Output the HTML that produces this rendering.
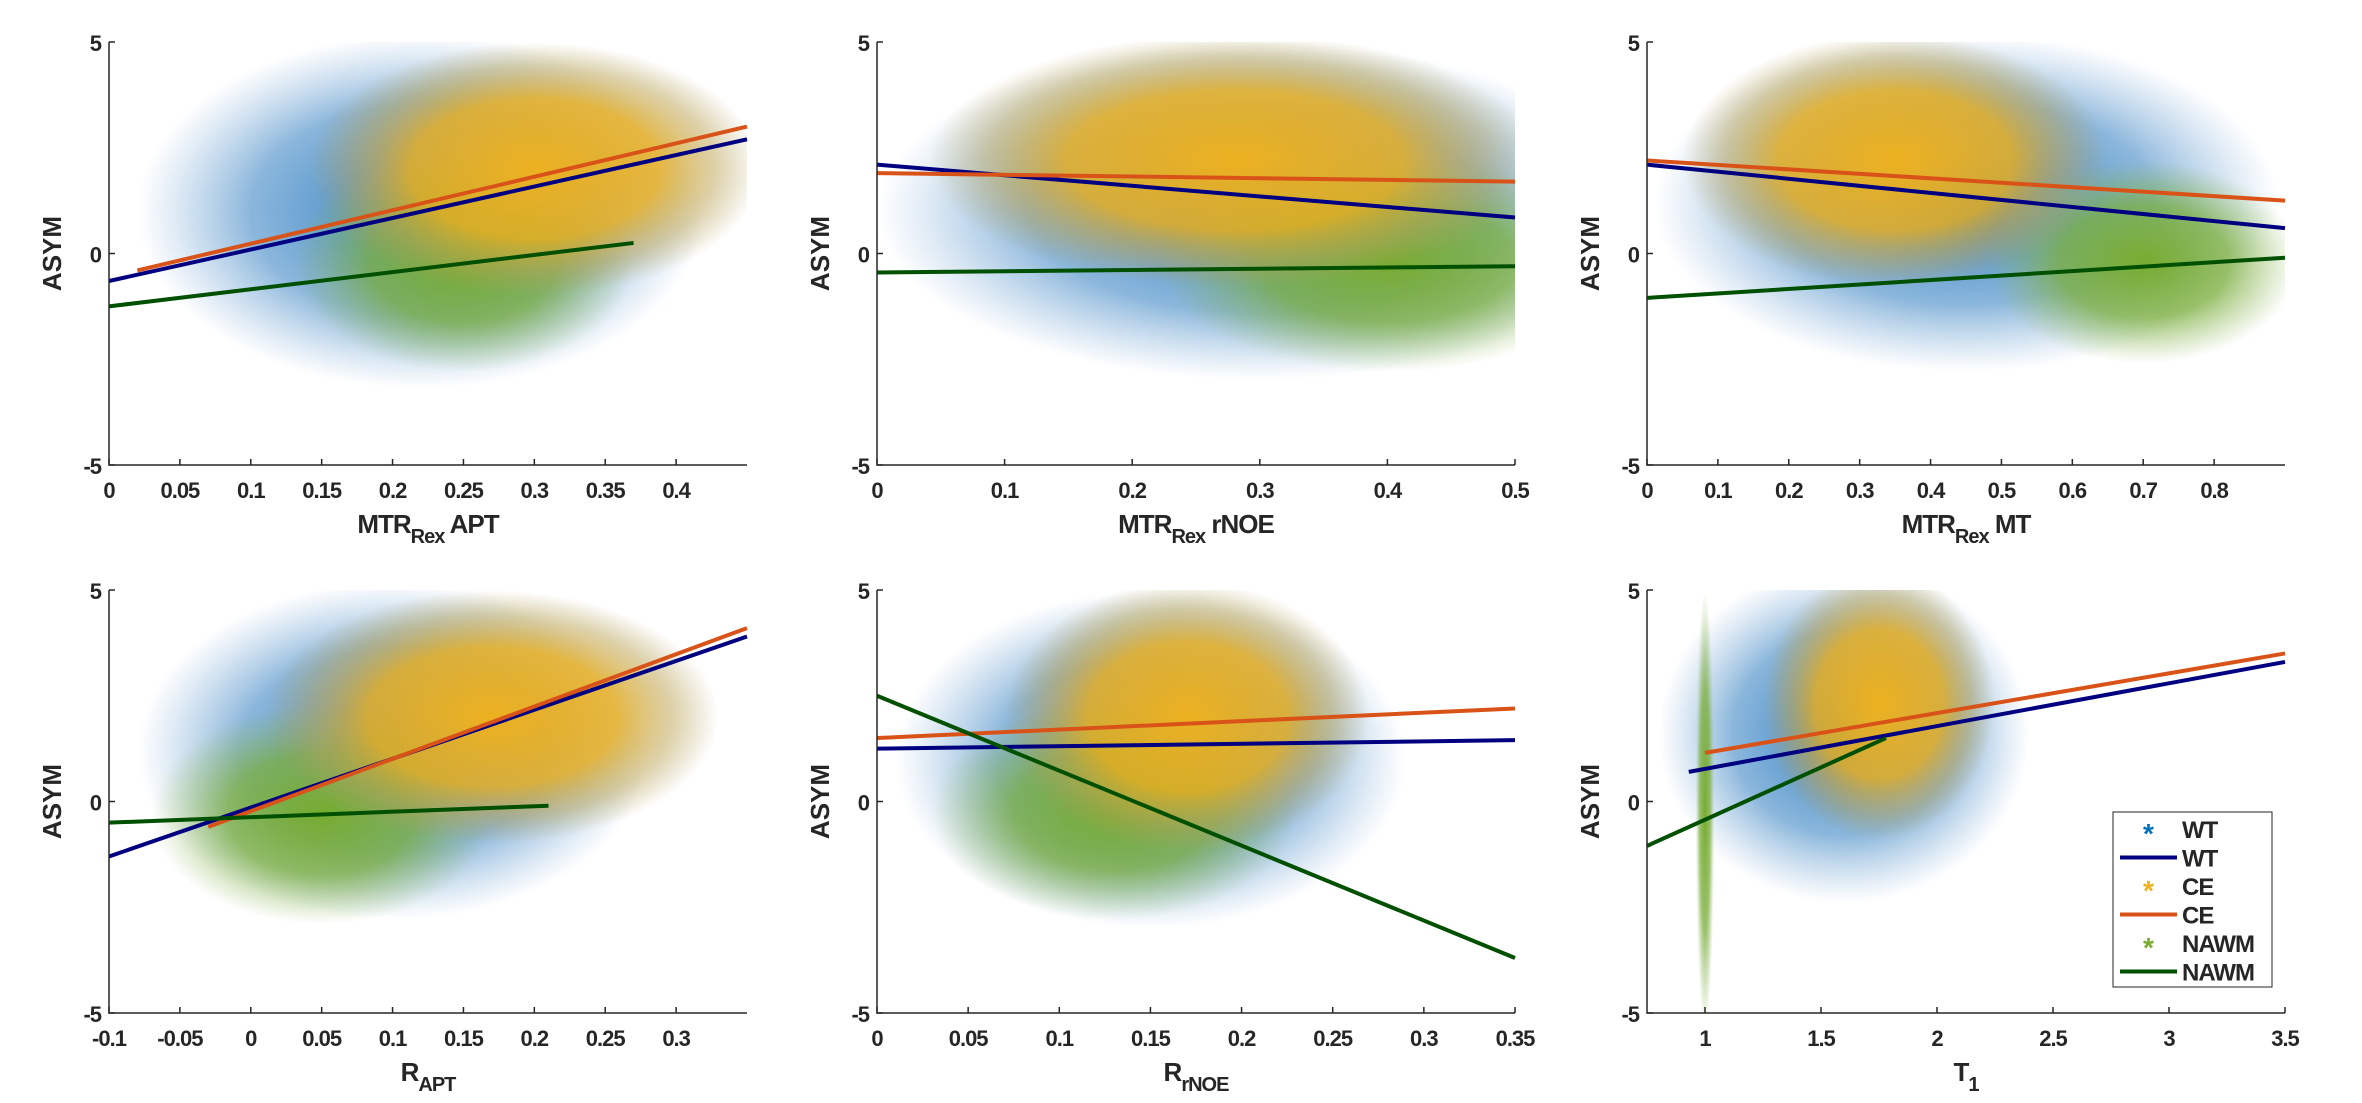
<!DOCTYPE html>
<html><head><meta charset="utf-8"><style>
body{margin:0;background:#fff}
svg text{font-family:"Liberation Sans",sans-serif;font-weight:bold;fill:#262626;letter-spacing:-1px}
</style></head><body>
<svg id="chart" width="2362" height="1098" viewBox="0 0 2362 1098" xmlns="http://www.w3.org/2000/svg">
<defs>
<radialGradient id="g-wt"><stop offset="0" stop-color="#1f77c0" stop-opacity="0.95"/><stop offset="0.6" stop-color="#3d86c4" stop-opacity="0.6"/><stop offset="1" stop-color="#6aa0d0" stop-opacity="0"/></radialGradient>
<radialGradient id="g-ce"><stop offset="0" stop-color="#edb120" stop-opacity="1"/><stop offset="0.55" stop-color="#e6ae22" stop-opacity="0.85"/><stop offset="0.8" stop-color="#bca455" stop-opacity="0.5"/><stop offset="1" stop-color="#b0a060" stop-opacity="0"/></radialGradient>
<radialGradient id="g-nawm"><stop offset="0" stop-color="#77ac30" stop-opacity="1"/><stop offset="0.55" stop-color="#7aae3a" stop-opacity="0.75"/><stop offset="1" stop-color="#90b860" stop-opacity="0"/></radialGradient>
</defs>
</svg>
<script>
// panel frames
const panelLeft=[109,877,1647,109,877,1647];
const panelTop=[42,42,42,590,590,590];
const PW=638, PH=423;
// data
const xMin=[0,0,0,-0.1,0,0.75];
const xMax=[0.45,0.5,0.9,0.35,0.35,3.5];
const xTicks=[[0,0.05,0.1,0.15,0.2,0.25,0.3,0.35,0.4],[0,0.1,0.2,0.3,0.4,0.5],[0,0.1,0.2,0.3,0.4,0.5,0.6,0.7,0.8],[-0.1,-0.05,0,0.05,0.1,0.15,0.2,0.25,0.3],[0,0.05,0.1,0.15,0.2,0.25,0.3,0.35],[1,1.5,2,2.5,3,3.5]];
const xLabelMain=["MTR","MTR","MTR","R","R","T"];
const xLabelSub=["Rex","Rex","Rex","APT","rNOE","1"];
const xLabelTail=[" APT"," rNOE"," MT","","",""];
const yTicks=[-5,0,5];
// clouds: [cx, cy, sx, sy]
const wtCloud=[[0.22,1.0,0.1,2.1],[0.3,1.0,0.15,2.0],[0.45,1.2,0.22,2.0],[0.1,1.2,0.09,2.0],[0.15,1.0,0.07,2.0],[1.6,1.6,0.4,2.0]];
const nawmCloud=[[0.25,-0.2,0.06,1.3],[0.4,-0.2,0.09,1.3],[0.7,-0.2,0.11,1.2],[0.05,-0.3,0.06,1.3],[0.13,-0.2,0.05,1.3],[1.0,-0.2,0.02,2.6]];
const ceCloud=[[0.3,2.0,0.08,1.5],[0.28,2.2,0.12,1.5],[0.35,2.2,0.15,1.5],[0.17,2.0,0.08,1.5],[0.17,2.0,0.05,1.6],[1.75,2.3,0.25,1.6]];
// fit lines: [x0,y0,x1,y1]
const wtLine=[[0,-0.65,0.45,2.7],[0,2.1,0.5,0.85],[0,2.1,0.9,0.6],[-0.1,-1.3,0.35,3.9],[0,1.25,0.35,1.45],[0.93,0.7,3.5,3.3]];
const ceLine=[[0.02,-0.4,0.45,3.0],[0,1.9,0.5,1.7],[0,2.2,0.9,1.25],[-0.03,-0.6,0.35,4.1],[0,1.5,0.35,2.2],[1.0,1.15,3.5,3.5]];
const nawmLine=[[0,-1.25,0.37,0.25],[0,-0.45,0.5,-0.3],[0,-1.05,0.9,-0.1],[-0.1,-0.5,0.21,-0.1],[0,2.5,0.35,-3.7],[0.75,-1.05,1.78,1.5]];

const NS="http://www.w3.org/2000/svg";
const svg=document.getElementById('chart');
function mk(tag,attrs,parent){const e=document.createElementNS(NS,tag);for(const k in attrs)e.setAttribute(k,attrs[k]);(parent||svg).appendChild(e);return e;}
function fmt(v){return String(Math.round(v*1000)/1000);}
for(let p=0;p<6;p++){
  const L=panelLeft[p],T=panelTop[p];
  const sx=v=>L+(v-xMin[p])/(xMax[p]-xMin[p])*PW;
  const sy=v=>T+(5-v)/10*PH;
  const g=mk('g',{});
  
  
  const cp=mk('clipPath',{id:'clip'+p},g);
  mk('rect',{x:L,y:T,width:PW,height:PH},cp);
  const cg=mk('g',{'clip-path':'url(#clip'+p+')'},g);
  const clouds=[[wtCloud,'g-wt','wt'],[nawmCloud,'g-nawm','nawm'],[ceCloud,'g-ce','ce']];
  for(const [arr,grad,nm] of clouds){
    const c=arr[p];
    const el=mk('ellipse',{cx:sx(c[0]),cy:sy(c[1]),rx:Math.abs(sx(c[0]+2.0*c[2])-sx(c[0])),ry:Math.abs(sy(c[1]+2.0*c[3])-sy(c[1])),fill:'url(#'+grad+')'},cg);
    
    
  }
  const lines=[[wtLine,'#000080','wt'],[ceLine,'#d95319','ce'],[nawmLine,'#005000','nawm']];
  for(const [arr,col,nm] of lines){
    const l=arr[p];
    const el=mk('line',{x1:sx(l[0]),y1:sy(l[1]),x2:sx(l[2]),y2:sy(l[3]),stroke:col,'stroke-width':4},g);
    
    
  }
  const ax=mk('path',{d:`M${L},${T}V${T+PH}H${L+PW}`,stroke:'#262626','stroke-width':1.5,fill:'none'},g);
  
  
  for(const t of xTicks[p]){
    const x=sx(t);
    mk('line',{x1:x,y1:T+PH,x2:x,y2:T+PH-6,stroke:'#262626','stroke-width':1.5},g);
    const tx=mk('text',{x:x,y:T+PH+33,'text-anchor':'middle','font-size':22},g);
    tx.textContent=fmt(t);
    
    
  }
  for(const t of yTicks){
    const y=sy(t);
    mk('line',{x1:L,y1:y,x2:L+6,y2:y,stroke:'#262626','stroke-width':1.5},g);
    const tx=mk('text',{x:L-8,y:y+9,'text-anchor':'end','font-size':22},g);
    tx.textContent=fmt(t);
    
    
  }
  const yl=mk('text',{x:0,y:0,'text-anchor':'middle','font-size':26,transform:`translate(${L-48},${T+PH/2}) rotate(-90)`,style:'letter-spacing:0'},g);
  yl.textContent='ASYM';
  
  
  const xl=mk('text',{x:L+PW/2,y:T+PH+68,'text-anchor':'middle','font-size':26},g);
  
  
  const a=mk('tspan',{},xl);a.textContent=xLabelMain[p];
  const b=mk('tspan',{dy:10,'font-size':20},xl);b.textContent=xLabelSub[p];
  const c=mk('tspan',{dy:-10},xl);c.textContent=xLabelTail[p]||'\u200b';
}
// legend
const legNames=["WT","WT","CE","CE","NAWM","NAWM"];
const legColors=["#0072bd","#000080","#edb120","#d95319","#77ac30","#005000"];
const legIsLine=[false,true,false,true,false,true];
const lg=mk('g',{});


mk('rect',{x:2113,y:812,width:159,height:175,fill:'#fff',stroke:'#262626','stroke-width':1},lg);
for(let i=0;i<6;i++){
  const y=829+i*28.5;
  if(legIsLine[i]) mk('line',{x1:2120,y1:y,x2:2177,y2:y,stroke:legColors[i],'stroke-width':4},lg);
  else { const s=mk('text',{x:2148,y:y+14,'text-anchor':'middle','font-size':28,style:'fill:'+legColors[i]},lg); s.textContent='*'; }
  const t=mk('text',{x:2182,y:y+9,'font-size':24},lg);
  t.textContent=legNames[i];
  
  
}
</script>
</body></html>
